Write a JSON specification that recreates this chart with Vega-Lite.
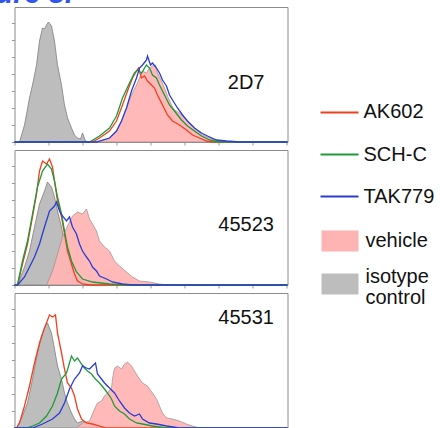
{
"$schema": "https://vega.github.io/schema/vega-lite/v6.json",
"padding": {"left": -48.5, "top": -21, "right": 0, "bottom": 0},
"title": {"text": "Figure 3.", "anchor": "start", "dx": -58.5, "offset": -25, "baseline": "alphabetic", "fontSize": 29, "fontStyle": "italic", "fontWeight": "bold", "color": "#3355ee", "font": "Liberation Sans"},
"datasets": {"hist": [
{"panel":"2D7","series":"isotype control","channel":5,"count":0},{"panel":"2D7","series":"isotype control","channel":10,"count":17},{"panel":"2D7","series":"isotype control","channel":15,"count":44},{"panel":"2D7","series":"isotype control","channel":18,"count":57},{"panel":"2D7","series":"isotype control","channel":22,"count":77},{"panel":"2D7","series":"isotype control","channel":25,"count":101},{"panel":"2D7","series":"isotype control","channel":28,"count":114},{"panel":"2D7","series":"isotype control","channel":30,"count":113},{"panel":"2D7","series":"isotype control","channel":32,"count":117},{"panel":"2D7","series":"isotype control","channel":34,"count":120},{"panel":"2D7","series":"isotype control","channel":37,"count":116},{"panel":"2D7","series":"isotype control","channel":40,"count":101},{"panel":"2D7","series":"isotype control","channel":43,"count":77},{"panel":"2D7","series":"isotype control","channel":47,"count":57},{"panel":"2D7","series":"isotype control","channel":50,"count":37},{"panel":"2D7","series":"isotype control","channel":53,"count":24},{"panel":"2D7","series":"isotype control","channel":57,"count":14},{"panel":"2D7","series":"isotype control","channel":60,"count":7},{"panel":"2D7","series":"isotype control","channel":63,"count":4},{"panel":"2D7","series":"isotype control","channel":66,"count":3},{"panel":"2D7","series":"isotype control","channel":68,"count":9},{"panel":"2D7","series":"isotype control","channel":71,"count":1},{"panel":"2D7","series":"isotype control","channel":75,"count":0},
{"panel":"2D7","series":"vehicle","channel":75,"count":0},{"panel":"2D7","series":"vehicle","channel":85,"count":1},{"panel":"2D7","series":"vehicle","channel":95,"count":4},{"panel":"2D7","series":"vehicle","channel":102,"count":11},{"panel":"2D7","series":"vehicle","channel":107,"count":21},{"panel":"2D7","series":"vehicle","channel":112,"count":34},{"panel":"2D7","series":"vehicle","channel":117,"count":47},{"panel":"2D7","series":"vehicle","channel":122,"count":57},{"panel":"2D7","series":"vehicle","channel":125,"count":64},{"panel":"2D7","series":"vehicle","channel":128,"count":71},{"panel":"2D7","series":"vehicle","channel":132,"count":69},{"panel":"2D7","series":"vehicle","channel":135,"count":74},{"panel":"2D7","series":"vehicle","channel":138,"count":76},{"panel":"2D7","series":"vehicle","channel":141,"count":77},{"panel":"2D7","series":"vehicle","channel":143,"count":69},{"panel":"2D7","series":"vehicle","channel":147,"count":61},{"panel":"2D7","series":"vehicle","channel":150,"count":54},{"panel":"2D7","series":"vehicle","channel":153,"count":46},{"panel":"2D7","series":"vehicle","channel":157,"count":37},{"panel":"2D7","series":"vehicle","channel":160,"count":32},{"panel":"2D7","series":"vehicle","channel":165,"count":29},{"panel":"2D7","series":"vehicle","channel":170,"count":24},{"panel":"2D7","series":"vehicle","channel":175,"count":19},{"panel":"2D7","series":"vehicle","channel":182,"count":12},{"panel":"2D7","series":"vehicle","channel":188,"count":7},{"panel":"2D7","series":"vehicle","channel":195,"count":4},{"panel":"2D7","series":"vehicle","channel":205,"count":1},{"panel":"2D7","series":"vehicle","channel":218,"count":0},
{"panel":"2D7","series":"AK602","channel":0,"count":0},{"panel":"2D7","series":"AK602","channel":78,"count":0},{"panel":"2D7","series":"AK602","channel":85,"count":4},{"panel":"2D7","series":"AK602","channel":95,"count":11},{"panel":"2D7","series":"AK602","channel":102,"count":21},{"panel":"2D7","series":"AK602","channel":108,"count":37},{"panel":"2D7","series":"AK602","channel":113,"count":51},{"panel":"2D7","series":"AK602","channel":118,"count":64},{"panel":"2D7","series":"AK602","channel":122,"count":71},{"panel":"2D7","series":"AK602","channel":124,"count":74},{"panel":"2D7","series":"AK602","channel":127,"count":64},{"panel":"2D7","series":"AK602","channel":130,"count":66},{"panel":"2D7","series":"AK602","channel":133,"count":61},{"panel":"2D7","series":"AK602","channel":137,"count":57},{"panel":"2D7","series":"AK602","channel":140,"count":54},{"panel":"2D7","series":"AK602","channel":143,"count":47},{"panel":"2D7","series":"AK602","channel":148,"count":37},{"panel":"2D7","series":"AK602","channel":153,"count":27},{"panel":"2D7","series":"AK602","channel":158,"count":21},{"panel":"2D7","series":"AK602","channel":165,"count":17},{"panel":"2D7","series":"AK602","channel":172,"count":12},{"panel":"2D7","series":"AK602","channel":178,"count":7},{"panel":"2D7","series":"AK602","channel":185,"count":4},{"panel":"2D7","series":"AK602","channel":192,"count":1},{"panel":"2D7","series":"AK602","channel":198,"count":0},{"panel":"2D7","series":"AK602","channel":273,"count":0},
{"panel":"2D7","series":"SCH-C","channel":0,"count":0},{"panel":"2D7","series":"SCH-C","channel":75,"count":0},{"panel":"2D7","series":"SCH-C","channel":85,"count":6},{"panel":"2D7","series":"SCH-C","channel":95,"count":14},{"panel":"2D7","series":"SCH-C","channel":102,"count":26},{"panel":"2D7","series":"SCH-C","channel":108,"count":44},{"panel":"2D7","series":"SCH-C","channel":115,"count":59},{"panel":"2D7","series":"SCH-C","channel":120,"count":69},{"panel":"2D7","series":"SCH-C","channel":123,"count":72},{"panel":"2D7","series":"SCH-C","channel":127,"count":69},{"panel":"2D7","series":"SCH-C","channel":132,"count":77},{"panel":"2D7","series":"SCH-C","channel":135,"count":74},{"panel":"2D7","series":"SCH-C","channel":138,"count":67},{"panel":"2D7","series":"SCH-C","channel":142,"count":64},{"panel":"2D7","series":"SCH-C","channel":145,"count":57},{"panel":"2D7","series":"SCH-C","channel":150,"count":47},{"panel":"2D7","series":"SCH-C","channel":155,"count":37},{"panel":"2D7","series":"SCH-C","channel":160,"count":31},{"panel":"2D7","series":"SCH-C","channel":167,"count":22},{"panel":"2D7","series":"SCH-C","channel":173,"count":16},{"panel":"2D7","series":"SCH-C","channel":180,"count":11},{"panel":"2D7","series":"SCH-C","channel":187,"count":6},{"panel":"2D7","series":"SCH-C","channel":195,"count":2},{"panel":"2D7","series":"SCH-C","channel":205,"count":0},{"panel":"2D7","series":"SCH-C","channel":273,"count":0},
{"panel":"2D7","series":"TAK779","channel":0,"count":0},{"panel":"2D7","series":"TAK779","channel":82,"count":0},{"panel":"2D7","series":"TAK779","channel":95,"count":4},{"panel":"2D7","series":"TAK779","channel":102,"count":11},{"panel":"2D7","series":"TAK779","channel":107,"count":21},{"panel":"2D7","series":"TAK779","channel":112,"count":34},{"panel":"2D7","series":"TAK779","channel":117,"count":51},{"panel":"2D7","series":"TAK779","channel":122,"count":64},{"panel":"2D7","series":"TAK779","channel":125,"count":74},{"panel":"2D7","series":"TAK779","channel":128,"count":77},{"panel":"2D7","series":"TAK779","channel":132,"count":82},{"panel":"2D7","series":"TAK779","channel":133,"count":86},{"panel":"2D7","series":"TAK779","channel":136,"count":77},{"panel":"2D7","series":"TAK779","channel":138,"count":79},{"panel":"2D7","series":"TAK779","channel":142,"count":74},{"panel":"2D7","series":"TAK779","channel":145,"count":69},{"panel":"2D7","series":"TAK779","channel":148,"count":62},{"panel":"2D7","series":"TAK779","channel":152,"count":56},{"panel":"2D7","series":"TAK779","channel":155,"count":47},{"panel":"2D7","series":"TAK779","channel":158,"count":42},{"panel":"2D7","series":"TAK779","channel":163,"count":34},{"panel":"2D7","series":"TAK779","channel":168,"count":27},{"panel":"2D7","series":"TAK779","channel":173,"count":21},{"panel":"2D7","series":"TAK779","channel":180,"count":14},{"panel":"2D7","series":"TAK779","channel":187,"count":9},{"panel":"2D7","series":"TAK779","channel":193,"count":6},{"panel":"2D7","series":"TAK779","channel":202,"count":2},{"panel":"2D7","series":"TAK779","channel":212,"count":1},{"panel":"2D7","series":"TAK779","channel":225,"count":0},{"panel":"2D7","series":"TAK779","channel":273,"count":0},
{"panel":"45523","series":"isotype control","channel":3,"count":0},{"panel":"45523","series":"isotype control","channel":10,"count":18},{"panel":"45523","series":"isotype control","channel":15,"count":34},{"panel":"45523","series":"isotype control","channel":20,"count":58},{"panel":"45523","series":"isotype control","channel":25,"count":81},{"panel":"45523","series":"isotype control","channel":30,"count":94},{"panel":"45523","series":"isotype control","channel":33,"count":103},{"panel":"45523","series":"isotype control","channel":37,"count":98},{"panel":"45523","series":"isotype control","channel":40,"count":88},{"panel":"45523","series":"isotype control","channel":43,"count":74},{"panel":"45523","series":"isotype control","channel":47,"count":58},{"panel":"45523","series":"isotype control","channel":50,"count":41},{"panel":"45523","series":"isotype control","channel":53,"count":28},{"panel":"45523","series":"isotype control","channel":57,"count":18},{"panel":"45523","series":"isotype control","channel":62,"count":9},{"panel":"45523","series":"isotype control","channel":68,"count":4},{"panel":"45523","series":"isotype control","channel":78,"count":1},{"panel":"45523","series":"isotype control","channel":88,"count":0},
{"panel":"45523","series":"vehicle","channel":32,"count":0},{"panel":"45523","series":"vehicle","channel":38,"count":14},{"panel":"45523","series":"vehicle","channel":43,"count":31},{"panel":"45523","series":"vehicle","channel":48,"count":48},{"panel":"45523","series":"vehicle","channel":53,"count":59},{"panel":"45523","series":"vehicle","channel":58,"count":69},{"panel":"45523","series":"vehicle","channel":63,"count":73},{"panel":"45523","series":"vehicle","channel":68,"count":71},{"panel":"45523","series":"vehicle","channel":72,"count":76},{"panel":"45523","series":"vehicle","channel":75,"count":66},{"panel":"45523","series":"vehicle","channel":78,"count":61},{"panel":"45523","series":"vehicle","channel":82,"count":54},{"panel":"45523","series":"vehicle","channel":85,"count":44},{"panel":"45523","series":"vehicle","channel":90,"count":38},{"panel":"45523","series":"vehicle","channel":95,"count":34},{"panel":"45523","series":"vehicle","channel":100,"count":24},{"panel":"45523","series":"vehicle","channel":105,"count":19},{"panel":"45523","series":"vehicle","channel":112,"count":13},{"panel":"45523","series":"vehicle","channel":118,"count":8},{"panel":"45523","series":"vehicle","channel":125,"count":4},{"panel":"45523","series":"vehicle","channel":135,"count":3},{"panel":"45523","series":"vehicle","channel":145,"count":1},{"panel":"45523","series":"vehicle","channel":152,"count":0},
{"panel":"45523","series":"AK602","channel":0,"count":0},{"panel":"45523","series":"AK602","channel":3,"count":0},{"panel":"45523","series":"AK602","channel":8,"count":21},{"panel":"45523","series":"AK602","channel":13,"count":41},{"panel":"45523","series":"AK602","channel":18,"count":68},{"panel":"45523","series":"AK602","channel":22,"count":91},{"panel":"45523","series":"AK602","channel":25,"count":114},{"panel":"45523","series":"AK602","channel":28,"count":124},{"panel":"45523","series":"AK602","channel":32,"count":121},{"panel":"45523","series":"AK602","channel":35,"count":126},{"panel":"45523","series":"AK602","channel":38,"count":118},{"panel":"45523","series":"AK602","channel":40,"count":104},{"panel":"45523","series":"AK602","channel":43,"count":84},{"panel":"45523","series":"AK602","channel":47,"count":68},{"panel":"45523","series":"AK602","channel":50,"count":51},{"panel":"45523","series":"AK602","channel":53,"count":34},{"panel":"45523","series":"AK602","channel":57,"count":21},{"panel":"45523","series":"AK602","channel":60,"count":11},{"panel":"45523","series":"AK602","channel":63,"count":4},{"panel":"45523","series":"AK602","channel":68,"count":1},{"panel":"45523","series":"AK602","channel":75,"count":0},{"panel":"45523","series":"AK602","channel":273,"count":0},
{"panel":"45523","series":"SCH-C","channel":0,"count":0},{"panel":"45523","series":"SCH-C","channel":3,"count":0},{"panel":"45523","series":"SCH-C","channel":8,"count":24},{"panel":"45523","series":"SCH-C","channel":13,"count":44},{"panel":"45523","series":"SCH-C","channel":18,"count":71},{"panel":"45523","series":"SCH-C","channel":23,"count":98},{"panel":"45523","series":"SCH-C","channel":28,"count":114},{"panel":"45523","series":"SCH-C","channel":33,"count":121},{"panel":"45523","series":"SCH-C","channel":37,"count":116},{"panel":"45523","series":"SCH-C","channel":40,"count":104},{"panel":"45523","series":"SCH-C","channel":43,"count":88},{"panel":"45523","series":"SCH-C","channel":47,"count":71},{"panel":"45523","series":"SCH-C","channel":50,"count":54},{"panel":"45523","series":"SCH-C","channel":53,"count":38},{"panel":"45523","series":"SCH-C","channel":57,"count":24},{"panel":"45523","series":"SCH-C","channel":62,"count":13},{"panel":"45523","series":"SCH-C","channel":68,"count":6},{"panel":"45523","series":"SCH-C","channel":78,"count":3},{"panel":"45523","series":"SCH-C","channel":95,"count":1},{"panel":"45523","series":"SCH-C","channel":112,"count":0},{"panel":"45523","series":"SCH-C","channel":273,"count":0},
{"panel":"45523","series":"TAK779","channel":0,"count":0},{"panel":"45523","series":"TAK779","channel":3,"count":0},{"panel":"45523","series":"TAK779","channel":10,"count":8},{"panel":"45523","series":"TAK779","channel":15,"count":18},{"panel":"45523","series":"TAK779","channel":20,"count":28},{"panel":"45523","series":"TAK779","channel":25,"count":41},{"panel":"45523","series":"TAK779","channel":30,"count":58},{"panel":"45523","series":"TAK779","channel":35,"count":74},{"panel":"45523","series":"TAK779","channel":40,"count":79},{"panel":"45523","series":"TAK779","channel":42,"count":83},{"panel":"45523","series":"TAK779","channel":45,"count":74},{"panel":"45523","series":"TAK779","channel":48,"count":69},{"panel":"45523","series":"TAK779","channel":52,"count":64},{"panel":"45523","series":"TAK779","channel":55,"count":68},{"panel":"45523","series":"TAK779","channel":58,"count":58},{"panel":"45523","series":"TAK779","channel":62,"count":51},{"panel":"45523","series":"TAK779","channel":65,"count":41},{"panel":"45523","series":"TAK779","channel":68,"count":34},{"panel":"45523","series":"TAK779","channel":72,"count":28},{"panel":"45523","series":"TAK779","channel":75,"count":24},{"panel":"45523","series":"TAK779","channel":78,"count":18},{"panel":"45523","series":"TAK779","channel":82,"count":14},{"panel":"45523","series":"TAK779","channel":85,"count":9},{"panel":"45523","series":"TAK779","channel":92,"count":6},{"panel":"45523","series":"TAK779","channel":98,"count":3},{"panel":"45523","series":"TAK779","channel":108,"count":1},{"panel":"45523","series":"TAK779","channel":118,"count":0},{"panel":"45523","series":"TAK779","channel":273,"count":0},
{"panel":"45531","series":"isotype control","channel":2,"count":0},{"panel":"45531","series":"isotype control","channel":3,"count":2},{"panel":"45531","series":"isotype control","channel":8,"count":12},{"panel":"45531","series":"isotype control","channel":13,"count":25},{"panel":"45531","series":"isotype control","channel":18,"count":49},{"panel":"45531","series":"isotype control","channel":23,"count":75},{"panel":"45531","series":"isotype control","channel":27,"count":92},{"panel":"45531","series":"isotype control","channel":30,"count":100},{"panel":"45531","series":"isotype control","channel":33,"count":105},{"panel":"45531","series":"isotype control","channel":37,"count":95},{"panel":"45531","series":"isotype control","channel":40,"count":79},{"panel":"45531","series":"isotype control","channel":43,"count":62},{"panel":"45531","series":"isotype control","channel":47,"count":49},{"panel":"45531","series":"isotype control","channel":50,"count":35},{"panel":"45531","series":"isotype control","channel":53,"count":25},{"panel":"45531","series":"isotype control","channel":57,"count":15},{"panel":"45531","series":"isotype control","channel":60,"count":9},{"panel":"45531","series":"isotype control","channel":63,"count":5},{"panel":"45531","series":"isotype control","channel":68,"count":7},{"panel":"45531","series":"isotype control","channel":72,"count":4},{"panel":"45531","series":"isotype control","channel":78,"count":2},{"panel":"45531","series":"isotype control","channel":85,"count":0},
{"panel":"45531","series":"vehicle","channel":62,"count":0},{"panel":"45531","series":"vehicle","channel":68,"count":5},{"panel":"45531","series":"vehicle","channel":75,"count":7},{"panel":"45531","series":"vehicle","channel":80,"count":19},{"panel":"45531","series":"vehicle","channel":83,"count":25},{"panel":"45531","series":"vehicle","channel":87,"count":27},{"panel":"45531","series":"vehicle","channel":90,"count":32},{"panel":"45531","series":"vehicle","channel":93,"count":35},{"panel":"45531","series":"vehicle","channel":97,"count":40},{"panel":"45531","series":"vehicle","channel":98,"count":49},{"panel":"45531","series":"vehicle","channel":100,"count":60},{"panel":"45531","series":"vehicle","channel":103,"count":62},{"panel":"45531","series":"vehicle","channel":107,"count":59},{"panel":"45531","series":"vehicle","channel":110,"count":64},{"panel":"45531","series":"vehicle","channel":113,"count":66},{"panel":"45531","series":"vehicle","channel":117,"count":62},{"panel":"45531","series":"vehicle","channel":120,"count":57},{"panel":"45531","series":"vehicle","channel":123,"count":52},{"panel":"45531","series":"vehicle","channel":128,"count":45},{"panel":"45531","series":"vehicle","channel":133,"count":42},{"panel":"45531","series":"vehicle","channel":138,"count":35},{"panel":"45531","series":"vehicle","channel":142,"count":29},{"panel":"45531","series":"vehicle","channel":145,"count":22},{"panel":"45531","series":"vehicle","channel":148,"count":15},{"panel":"45531","series":"vehicle","channel":152,"count":10},{"panel":"45531","series":"vehicle","channel":158,"count":9},{"panel":"45531","series":"vehicle","channel":165,"count":7},{"panel":"45531","series":"vehicle","channel":172,"count":4},{"panel":"45531","series":"vehicle","channel":178,"count":2},{"panel":"45531","series":"vehicle","channel":185,"count":0},
{"panel":"45531","series":"AK602","channel":0,"count":0},{"panel":"45531","series":"AK602","channel":2,"count":0},{"panel":"45531","series":"AK602","channel":5,"count":5},{"panel":"45531","series":"AK602","channel":10,"count":22},{"panel":"45531","series":"AK602","channel":15,"count":42},{"panel":"45531","series":"AK602","channel":20,"count":65},{"panel":"45531","series":"AK602","channel":25,"count":85},{"panel":"45531","series":"AK602","channel":30,"count":100},{"panel":"45531","series":"AK602","channel":35,"count":113},{"panel":"45531","series":"AK602","channel":38,"count":111},{"panel":"45531","series":"AK602","channel":41,"count":113},{"panel":"45531","series":"AK602","channel":43,"count":95},{"panel":"45531","series":"AK602","channel":47,"count":75},{"panel":"45531","series":"AK602","channel":50,"count":59},{"panel":"45531","series":"AK602","channel":53,"count":45},{"panel":"45531","series":"AK602","channel":57,"count":40},{"panel":"45531","series":"AK602","channel":60,"count":32},{"panel":"45531","series":"AK602","channel":63,"count":19},{"panel":"45531","series":"AK602","channel":67,"count":9},{"panel":"45531","series":"AK602","channel":72,"count":5},{"panel":"45531","series":"AK602","channel":78,"count":4},{"panel":"45531","series":"AK602","channel":85,"count":2},{"panel":"45531","series":"AK602","channel":92,"count":0},{"panel":"45531","series":"AK602","channel":273,"count":0},
{"panel":"45531","series":"SCH-C","channel":0,"count":0},{"panel":"45531","series":"SCH-C","channel":12,"count":0},{"panel":"45531","series":"SCH-C","channel":18,"count":2},{"panel":"45531","series":"SCH-C","channel":25,"count":5},{"panel":"45531","series":"SCH-C","channel":32,"count":12},{"panel":"45531","series":"SCH-C","channel":38,"count":22},{"panel":"45531","series":"SCH-C","channel":43,"count":35},{"panel":"45531","series":"SCH-C","channel":47,"count":49},{"panel":"45531","series":"SCH-C","channel":52,"count":55},{"panel":"45531","series":"SCH-C","channel":55,"count":65},{"panel":"45531","series":"SCH-C","channel":57,"count":72},{"panel":"45531","series":"SCH-C","channel":60,"count":67},{"panel":"45531","series":"SCH-C","channel":63,"count":70},{"panel":"45531","series":"SCH-C","channel":67,"count":64},{"panel":"45531","series":"SCH-C","channel":70,"count":60},{"panel":"45531","series":"SCH-C","channel":73,"count":57},{"panel":"45531","series":"SCH-C","channel":77,"count":54},{"panel":"45531","series":"SCH-C","channel":80,"count":50},{"panel":"45531","series":"SCH-C","channel":85,"count":45},{"panel":"45531","series":"SCH-C","channel":90,"count":39},{"panel":"45531","series":"SCH-C","channel":93,"count":35},{"panel":"45531","series":"SCH-C","channel":97,"count":29},{"panel":"45531","series":"SCH-C","channel":100,"count":22},{"panel":"45531","series":"SCH-C","channel":105,"count":17},{"panel":"45531","series":"SCH-C","channel":110,"count":14},{"panel":"45531","series":"SCH-C","channel":115,"count":9},{"panel":"45531","series":"SCH-C","channel":122,"count":5},{"panel":"45531","series":"SCH-C","channel":128,"count":4},{"panel":"45531","series":"SCH-C","channel":138,"count":2},{"panel":"45531","series":"SCH-C","channel":152,"count":0},{"panel":"45531","series":"SCH-C","channel":273,"count":0},
{"panel":"45531","series":"TAK779","channel":0,"count":0},{"panel":"45531","series":"TAK779","channel":18,"count":0},{"panel":"45531","series":"TAK779","channel":28,"count":4},{"panel":"45531","series":"TAK779","channel":38,"count":9},{"panel":"45531","series":"TAK779","channel":45,"count":15},{"panel":"45531","series":"TAK779","channel":50,"count":25},{"panel":"45531","series":"TAK779","channel":55,"count":39},{"panel":"45531","series":"TAK779","channel":60,"count":49},{"panel":"45531","series":"TAK779","channel":65,"count":55},{"panel":"45531","series":"TAK779","channel":68,"count":62},{"panel":"45531","series":"TAK779","channel":72,"count":60},{"panel":"45531","series":"TAK779","channel":75,"count":59},{"panel":"45531","series":"TAK779","channel":78,"count":62},{"panel":"45531","series":"TAK779","channel":81,"count":65},{"panel":"45531","series":"TAK779","channel":83,"count":54},{"panel":"45531","series":"TAK779","channel":87,"count":49},{"panel":"45531","series":"TAK779","channel":90,"count":45},{"panel":"45531","series":"TAK779","channel":95,"count":40},{"panel":"45531","series":"TAK779","channel":100,"count":35},{"panel":"45531","series":"TAK779","channel":105,"count":27},{"panel":"45531","series":"TAK779","channel":110,"count":20},{"panel":"45531","series":"TAK779","channel":115,"count":15},{"panel":"45531","series":"TAK779","channel":120,"count":12},{"panel":"45531","series":"TAK779","channel":125,"count":14},{"panel":"45531","series":"TAK779","channel":128,"count":9},{"panel":"45531","series":"TAK779","channel":135,"count":5},{"panel":"45531","series":"TAK779","channel":142,"count":4},{"panel":"45531","series":"TAK779","channel":152,"count":2},{"panel":"45531","series":"TAK779","channel":165,"count":0},{"panel":"45531","series":"TAK779","channel":273,"count":0}
]},
"data": {"name": "hist"},
"spacing": 8,
"bounds": "flush",
"vconcat": [
{"width": 273, "height": 135,
 "title": {"text": "2D7", "anchor": "end", "align": "center", "baseline": "alphabetic", "dx": -44, "dy": 102, "offset": 0, "fontSize": 20, "fontWeight": "normal", "font": "Liberation Sans", "color": "#111"},
 "transform": [{"filter": "datum.panel === '2D7'"}],
 "encoding": {
  "x": {"field": "channel", "type": "quantitative", "scale": {"domain": [0, 273], "nice": false}, "axis": {"labels": false, "domain": false, "grid": false, "title": null, "tickSize": 3, "tickColor": "#999", "values": [0, 34, 68, 102, 136, 170, 204, 238, 272]}},
  "y": {"field": "count", "type": "quantitative", "stack": null, "scale": {"domain": [0, 135], "nice": false}, "axis": {"labels": false, "domain": false, "grid": false, "title": null, "tickSize": 3, "tickColor": "#999", "values": [0, 17, 34, 51, 68, 85, 102, 119]}}
 },
 "layer": [
  {"transform": [{"filter": "datum.series === 'isotype control'"}], "mark": {"type": "area", "stroke": "#7f7f7f", "strokeWidth": 0.8}, "encoding": {"fill": {"field": "series", "type": "nominal", "scale": {"domain": ["vehicle", "isotype control"], "range": ["#ffb4b4", "#bdbdbd"]}, "legend": {"orient": "none", "legendX": 307, "legendY": 215.5, "symbolType": "M-1,-0.568H1V0.568H-1Z", "symbolSize": 1369, "symbolStrokeWidth": 0, "labelOffset": 7, "rowPadding": 13, "labelExpr": "datum.label === 'isotype control' ? ['isotype', 'control'] : datum.label", "encoding": {"labels": {"dy": {"condition": {"test": "datum.value === 'isotype control'", "value": -7}, "value": 0}, "lineHeight": {"value": 21}}}}}}},
  {"transform": [{"filter": "datum.series === 'vehicle'"}], "mark": {"type": "area", "stroke": "#9a8c8c", "strokeWidth": 0.7, "fillOpacity": 0.93}, "encoding": {"fill": {"field": "series", "type": "nominal"}}},
  {"transform": [{"filter": "indexof(['AK602','SCH-C','TAK779'], datum.series) >= 0"}], "mark": {"type": "line", "strokeWidth": 1.3}, "encoding": {"stroke": {"field": "series", "type": "nominal", "scale": {"domain": ["AK602", "SCH-C", "TAK779"], "range": ["#f0401e", "#1e9a38", "#2a3cd2"]}, "legend": {"orient": "none", "legendX": 305, "legendY": 85.4, "symbolType": "stroke", "symbolSize": 1444, "symbolStrokeWidth": 2, "labelOffset": 4, "rowPadding": 12.1}}}}
 ]},
{"width": 273, "height": 135,
 "title": {"text": "45523", "anchor": "end", "align": "center", "baseline": "alphabetic", "dx": -44, "dy": 101, "offset": 0, "fontSize": 20, "fontWeight": "normal", "font": "Liberation Sans", "color": "#111"},
 "transform": [{"filter": "datum.panel === '45523'"}],
 "encoding": {
  "x": {"field": "channel", "type": "quantitative", "scale": {"domain": [0, 273], "nice": false}, "axis": {"labels": false, "domain": false, "grid": false, "title": null, "tickSize": 3, "tickColor": "#999", "values": [0, 34, 68, 102, 136, 170, 204, 238, 272]}},
  "y": {"field": "count", "type": "quantitative", "stack": null, "scale": {"domain": [0, 135], "nice": false}, "axis": {"labels": false, "domain": false, "grid": false, "title": null, "tickSize": 3, "tickColor": "#999", "values": [0, 17, 34, 51, 68, 85, 102, 119]}}
 },
 "layer": [
  {"transform": [{"filter": "datum.series === 'isotype control'"}], "mark": {"type": "area", "stroke": "#7f7f7f", "strokeWidth": 0.8}, "encoding": {"fill": {"field": "series", "type": "nominal"}}},
  {"transform": [{"filter": "datum.series === 'vehicle'"}], "mark": {"type": "area", "stroke": "#9a8c8c", "strokeWidth": 0.7, "fillOpacity": 0.93}, "encoding": {"fill": {"field": "series", "type": "nominal"}}},
  {"transform": [{"filter": "indexof(['AK602','SCH-C','TAK779'], datum.series) >= 0"}], "mark": {"type": "line", "strokeWidth": 1.3}, "encoding": {"stroke": {"field": "series", "type": "nominal"}}}
 ]},
{"width": 273, "height": 135,
 "title": {"text": "45531", "anchor": "end", "align": "center", "baseline": "alphabetic", "dx": -44, "dy": 51, "offset": 0, "fontSize": 20, "fontWeight": "normal", "font": "Liberation Sans", "color": "#111"},
 "transform": [{"filter": "datum.panel === '45531'"}],
 "encoding": {
  "x": {"field": "channel", "type": "quantitative", "scale": {"domain": [0, 273], "nice": false}, "axis": {"labels": false, "domain": false, "grid": false, "title": null, "tickSize": 3, "tickColor": "#999", "values": [0, 34, 68, 102, 136, 170, 204, 238, 272]}},
  "y": {"field": "count", "type": "quantitative", "stack": null, "scale": {"domain": [0, 135], "nice": false}, "axis": {"labels": false, "domain": false, "grid": false, "title": null, "tickSize": 3, "tickColor": "#999", "values": [0, 17, 34, 51, 68, 85, 102, 119]}}
 },
 "layer": [
  {"transform": [{"filter": "datum.series === 'isotype control'"}], "mark": {"type": "area", "stroke": "#7f7f7f", "strokeWidth": 0.8}, "encoding": {"fill": {"field": "series", "type": "nominal"}}},
  {"transform": [{"filter": "datum.series === 'vehicle'"}], "mark": {"type": "area", "stroke": "#9a8c8c", "strokeWidth": 0.7, "fillOpacity": 0.93}, "encoding": {"fill": {"field": "series", "type": "nominal"}}},
  {"transform": [{"filter": "indexof(['AK602','SCH-C','TAK779'], datum.series) >= 0"}], "mark": {"type": "line", "strokeWidth": 1.3}, "encoding": {"stroke": {"field": "series", "type": "nominal"}}}
 ]}
],
"config": {
 "view": {"stroke": "#8c8c8c", "strokeWidth": 1},
 "font": "Liberation Sans",
 "legend": {"title": null, "padding": 0, "labelFontSize": 20, "labelFont": "Liberation Sans", "labelColor": "#111", "labelLimit": 200, "symbolOpacity": 1},
 "title": {"font": "Liberation Sans"}
}
}
